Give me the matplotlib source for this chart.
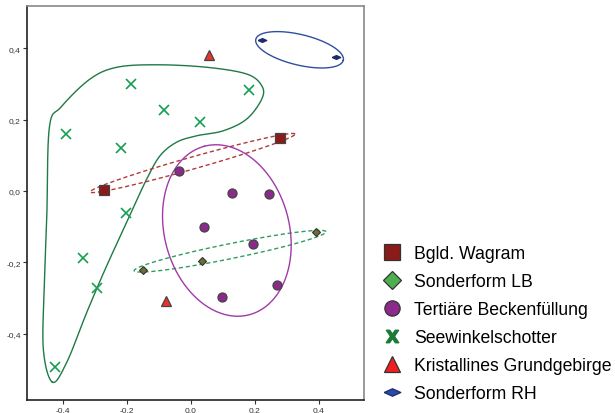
import numpy as np
import matplotlib
matplotlib.use('Agg')
import matplotlib.pyplot as plt
from matplotlib.lines import Line2D

plt.rcParams['font.family'] = ['Liberation Sans', 'DejaVu Sans']

# point data
wagram_x = [-0.270, 0.279]
wagram_y = [0.002, 0.149]

lb_x = [-0.150, 0.035, 0.392]
lb_y = [-0.222, -0.195, -0.115]

becken_x = [-0.038, 0.130, 0.245, 0.040, 0.194, 0.268, 0.098]
becken_y = [0.057, -0.005, -0.008, -0.100, -0.149, -0.264, -0.297]

seewinkel_x = [-0.390, -0.188, -0.083, 0.029, 0.183, -0.217, -0.202, -0.336, -0.294, -0.423]
seewinkel_y = [0.160, 0.300, 0.227, 0.194, 0.284, 0.122, -0.062, -0.188, -0.271, -0.493]

krist_x = [0.056, -0.079]
krist_y = [0.381, -0.308]

rh_x = [0.223, 0.453]
rh_y = [0.424, 0.375]

labels = ['Bgld. Wagram', 'Sonderform LB', 'Tertiäre Beckenfüllung',
          'Seewinkelschotter', 'Kristallines Grundgebirge', 'Sonderform RH']

# hand drawn hull around the Seewinkelschotter group
hull_x = [-0.4325, -0.461, -0.4575, -0.450, -0.442, -0.405, -0.315, -0.231, -0.106,
          0.050, 0.175, 0.222, 0.222, 0.175, 0.102, 0.019, -0.044, -0.096, -0.1375,
          -0.179, -0.2625, -0.325, -0.3875]
hull_y = [-0.536, -0.443, -0.256, -0.069, 0.179, 0.236, 0.314, 0.347, 0.354,
          0.347, 0.328, 0.295, 0.258, 0.202, 0.169, 0.155, 0.137, 0.099, 0.034,
          -0.046, -0.209, -0.340, -0.480]

XLIM = (-0.512, 0.540)
YLIM = (-0.586, 0.518)


def catmull_closed(px, py, n=30):
    px = np.asarray(px)
    py = np.asarray(py)
    m = len(px)
    xs, ys = [], []
    t = np.linspace(0, 1, n, endpoint=False)
    for i in range(m):
        p0 = np.array([px[i - 1], py[i - 1]])
        p1 = np.array([px[i], py[i]])
        p2 = np.array([px[(i + 1) % m], py[(i + 1) % m]])
        p3 = np.array([px[(i + 2) % m], py[(i + 2) % m]])
        for tt in t:
            pt = 0.5 * ((2 * p1) + (-p0 + p2) * tt + (2 * p0 - 5 * p1 + 4 * p2 - p3) * tt ** 2
                        + (-p0 + 3 * p1 - 3 * p2 + p3) * tt ** 3)
            xs.append(pt[0])
            ys.append(pt[1])
    xs.append(xs[0])
    ys.append(ys[0])
    return np.array(xs), np.array(ys)


def ellipse(ax, cx, cy, a, b, ang, k, **kw):
    # a, b, ang given in screen-like units (y stretched by k)
    t = np.linspace(0, 2 * np.pi, 300)
    th = np.radians(ang)
    ux = a * np.cos(t) * np.cos(th) - b * np.sin(t) * np.sin(th)
    uy = a * np.cos(t) * np.sin(th) + b * np.sin(t) * np.cos(th)
    ax.plot(cx + ux, cy + uy / k, **kw)


fig = plt.figure(figsize=(6.15, 4.14), dpi=100)
ax = fig.add_axes([0.0439, 0.0314, 0.5472, 0.951])
ax.set_xlim(XLIM)
ax.set_ylim(YLIM)

# y stretch factor of the axes box (px per unit y / px per unit x)
k = (0.951 * 414 / (YLIM[1] - YLIM[0])) / (0.5472 * 615 / (XLIM[1] - XLIM[0]))

hx, hy = catmull_closed(hull_x, hull_y)
ax.plot(hx, hy, color='#1f7a45', lw=1.0, zorder=2)

ellipse(ax, 0.340, 0.396, 0.1406, 0.0478, -13.5, k, color='#2f4f9f', lw=1.0, zorder=2)
ellipse(ax, 0.0056, 0.0785, 0.333, 0.0188, 15.8, k, color='#b03a3a', lw=1.0,
        ls=(0, (3, 2)), zorder=2)
ellipse(ax, 0.1228, -0.1688, 0.306, 0.0234, 11.5, k, color='#2e9e5e', lw=1.0,
        ls=(0, (3, 2)), zorder=2)
ellipse(ax, 0.1128, -0.1107, 0.2725, 0.195, 105, k, color='#a03aa8', lw=1.0, zorder=2)

flat = [(-1, 0), (0, 0.45), (1, 0), (0, -0.45), (-1, 0)]

ax.plot(wagram_x, wagram_y, 's', ms=6.5, mfc='#8b1a1a', mec='#444444', mew=0.9, zorder=4)
ax.plot(lb_x, lb_y, 'D', ms=4.3, mfc='#6b7030', mec='#333333', mew=0.8, zorder=4)
ax.plot(becken_x, becken_y, 'o', ms=6.5, mfc='#8b2a8b', mec='#444444', mew=0.9, zorder=4)
ax.plot(seewinkel_x, seewinkel_y, 'x', ms=6.5, color='#14a050', mew=1.2, zorder=4)
ax.plot(krist_x, krist_y, '^', ms=6.5, mfc='#e8332f', mec='#444444', mew=0.9, zorder=4)
ax.plot(rh_x, rh_y, marker=flat, ls='none', ms=6, mfc='#1e2a6e', mec='#1e2a6e', zorder=4)

ticks = [-0.4, -0.2, 0.0, 0.2, 0.4]
ax.set_xticks(ticks)
ax.set_yticks(ticks)
ax.set_xticklabels([('%.1f' % v).replace('.', ',') for v in ticks])
ax.set_yticklabels([('%.1f' % v).replace('.', ',') for v in ticks])
ax.tick_params(labelsize=6, colors='#333333', length=3, width=0.8, pad=1.5)
for s in ['left', 'bottom']:
    ax.spines[s].set_color('#222222')
    ax.spines[s].set_linewidth(1.2)
for s in ['top', 'right']:
    ax.spines[s].set_color('#888888')
    ax.spines[s].set_linewidth(1.2)

handles = [
    Line2D([], [], ls='none', marker='s', ms=11, mfc='#8b1a1a', mec='#333333', mew=0.9),
    Line2D([], [], ls='none', marker='D', ms=9, mfc='#4caf50', mec='#333333', mew=0.9),
    Line2D([], [], ls='none', marker='o', ms=11, mfc='#8b2a8b', mec='#333333', mew=0.9),
    Line2D([], [], ls='none', marker=r'$\mathbf{X}$', ms=9, color='#1a7a3a'),
    Line2D([], [], ls='none', marker='^', ms=12, mfc='#f02020', mec='#333333', mew=0.9),
    Line2D([], [], ls='none', marker=flat, ms=12, mfc='#2a4aa8', mec='#1e2a6e', mew=0.9),
]
fig.legend(handles, labels, loc='upper left', bbox_to_anchor=(0.620, 0.405),
           frameon=False, fontsize=12.7, labelspacing=0.62, handletextpad=0.65,
           handlelength=1.2, borderaxespad=0, borderpad=0)

fig.savefig('out.png', dpi=100)
